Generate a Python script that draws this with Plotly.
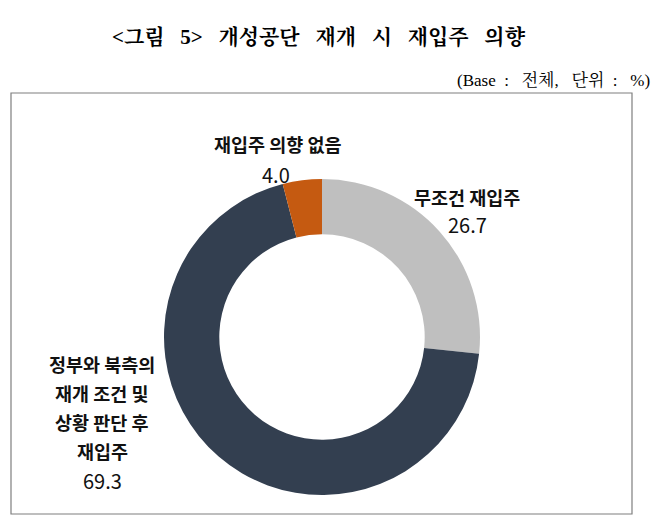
"""
개성공단 재개 시 재입주 의향 - donut chart
"""
import plotly.graph_objects as go

# the page body adds an 8px margin, so the figure is placed 8px in from the corner
OFF = 8
W, H = 662 - OFF, 530 - OFF

labels = ["무조건 재입주", "정부와 북측의 재개 조건 및 상황 판단 후 재입주", "재입주 의향 없음"]
values = [26.7, 69.3, 4.0]
colors = ["#BFBFBF", "#333F50", "#C55A11"]
# label lines as they are broken in the picture
label_lines = [["무조건 재입주"],
               ["정부와 북측의", "재개 조건 및", "상황 판단 후", "재입주"],
               ["재입주 의향 없음"]]

title = "<그림\u2002 5>\u2002 개성공단\u2002 재개\u2002 시\u2002 재입주\u2002 의향"
subtitle = "(Base\u2002:\u2002 전체,\u2002 단위\u2002:\u2002 %)"

SERIF = "Liberation Serif, Noto Serif CJK KR, Noto Sans CJK KR, serif"
SANS = "Noto Sans CJK KR, sans-serif"


def px(x):
    return (x - OFF) / W


def py(y):
    return 1 - (y - OFF) / H


fig = go.Figure()

# donut, centred at (322, 337) px, radius ~158 px
cx, cy, r = 322, 337, 158
fig.add_trace(go.Pie(
    labels=labels,
    values=values,
    hole=0.65,
    sort=False,
    direction="clockwise",
    rotation=0,
    marker=dict(colors=colors, line=dict(width=0)),
    textinfo="none",
    hoverinfo="label+value",
    showlegend=False,
    domain=dict(x=[px(cx - r), px(cx + r)], y=[py(cy + r), py(cy - r)]),
))

# slice labels: (x centre, y of first line) in px
label_pos = [(467, 197), (102, 364), (278, 144)]
value_pos = [(467, 225), (102, 480), (276, 174)]
line_gap = 29
for lines, val, (lx, ly), (vx, vy) in zip(label_lines, values, label_pos, value_pos):
    for i, line in enumerate(lines):
        fig.add_annotation(x=px(lx), y=py(ly + i * line_gap), xref="paper", yref="paper",
                           xanchor="center", yanchor="middle",
                           text="<b>" + line + "</b>", showarrow=False,
                           font=dict(family=SANS, size=18.5, color="#111111"))
    fig.add_annotation(x=px(vx), y=py(vy), xref="paper", yref="paper",
                       xanchor="center", yanchor="middle",
                       text="%.1f" % val, showarrow=False,
                       font=dict(family=SANS, size=20, color="#111111"))

# title and unit note
fig.add_annotation(x=px(319), y=py(37), xref="paper", yref="paper",
                   xanchor="center", yanchor="middle",
                   text="<b>" + title + "</b>", showarrow=False,
                   font=dict(family=SERIF, size=21, color="#000000"))
fig.add_annotation(x=px(652), y=py(80), xref="paper", yref="paper",
                   xanchor="right", yanchor="middle",
                   text=subtitle, showarrow=False,
                   font=dict(family=SERIF, size=17, color="#000000"))

# frame round the chart
fig.add_shape(type="rect", xref="paper", yref="paper",
              x0=px(11), x1=px(632), y0=py(514), y1=py(93),
              line=dict(color="#7F7F7F", width=1.2))

fig.update_layout(
    width=W,
    height=H,
    margin=dict(l=0, r=0, t=0, b=0),
    paper_bgcolor="white",
    plot_bgcolor="white",
)

fig.write_html("out.html", config={"displayModeBar": False})
